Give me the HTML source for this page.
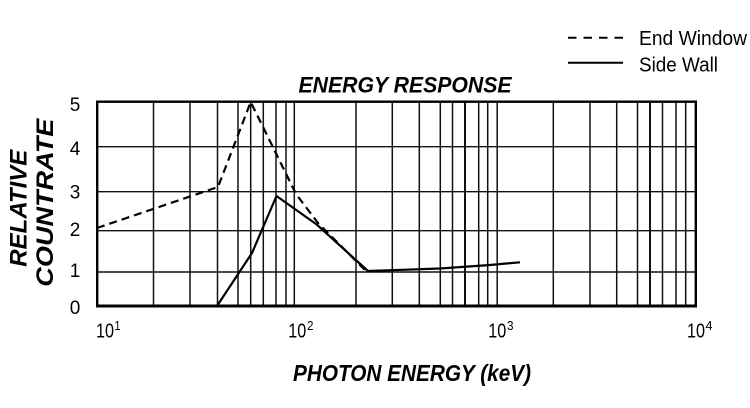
<!DOCTYPE html>
<html>
<head>
<meta charset="utf-8">
<style>
  html, body { margin: 0; padding: 0; background: #fff; }
  body { width: 750px; height: 408px; overflow: hidden; }
  svg { display: block; }
  text { font-family: "Liberation Sans", Arial, sans-serif; fill: #000; }
</style>
</head>
<body>
<svg width="750" height="408" viewBox="0 0 750 408" xmlns="http://www.w3.org/2000/svg">
  <rect x="0" y="0" width="750" height="408" fill="#fff"/>

  <!-- Legend -->
  <line x1="568" y1="37.7" x2="623" y2="37.7" stroke="#000" stroke-width="2" stroke-dasharray="8.5 7"/>
  <text x="639" y="45" font-size="20" textLength="108" lengthAdjust="spacingAndGlyphs">End Window</text>
  <line x1="568" y1="62.7" x2="623" y2="62.7" stroke="#000" stroke-width="2"/>
  <text x="639" y="71.5" font-size="20" textLength="79" lengthAdjust="spacingAndGlyphs">Side Wall</text>

  <!-- Title -->
  <text x="298.5" y="92.7" font-size="22" font-weight="bold" font-style="italic" textLength="213" lengthAdjust="spacingAndGlyphs">ENERGY RESPONSE</text>

  <!-- Grid: vertical lines -->
  <g stroke="#111" stroke-width="1.5">
    <line x1="153.5" y1="102" x2="153.5" y2="306"/>
    <line x1="190" y1="102" x2="190" y2="306"/>
    <line x1="217.5" y1="102" x2="217.5" y2="306"/>
    <line x1="238" y1="102" x2="238" y2="306"/>
    <line x1="250.7" y1="102" x2="250.7" y2="306"/>
    <line x1="263.3" y1="102" x2="263.3" y2="306"/>
    <line x1="276" y1="102" x2="276" y2="306"/>
    <line x1="286" y1="102" x2="286" y2="306"/>
    <line x1="294.3" y1="102" x2="294.3" y2="306"/>
    <line x1="356" y1="102" x2="356" y2="306"/>
    <line x1="392.3" y1="102" x2="392.3" y2="306"/>
    <line x1="419.3" y1="102" x2="419.3" y2="306"/>
    <line x1="440.3" y1="102" x2="440.3" y2="306"/>
    <line x1="452.5" y1="102" x2="452.5" y2="306"/>
    <line x1="465" y1="102" x2="465" y2="306" stroke-width="2"/>
    <line x1="478.7" y1="102" x2="478.7" y2="306"/>
    <line x1="487.7" y1="102" x2="487.7" y2="306"/>
    <line x1="497.2" y1="102" x2="497.2" y2="306"/>
    <line x1="553.3" y1="102" x2="553.3" y2="306"/>
    <line x1="590" y1="102" x2="590" y2="306"/>
    <line x1="616.7" y1="102" x2="616.7" y2="306"/>
    <line x1="637.5" y1="102" x2="637.5" y2="306"/>
    <line x1="650" y1="102" x2="650" y2="306" stroke-width="2"/>
    <line x1="662.5" y1="102" x2="662.5" y2="306"/>
    <line x1="676" y1="102" x2="676" y2="306"/>
    <line x1="685.7" y1="102" x2="685.7" y2="306"/>
  </g>
  <!-- Grid: horizontal lines -->
  <g stroke="#111" stroke-width="1.4">
    <line x1="97" y1="146.7" x2="696" y2="146.7"/>
    <line x1="97" y1="191.7" x2="696" y2="191.7"/>
    <line x1="97" y1="230.7" x2="696" y2="230.7"/>
    <line x1="97" y1="272" x2="696" y2="272"/>
  </g>

  <!-- Border -->
  <rect x="97.2" y="101.7" width="598.6" height="204.3" fill="none" stroke="#000" stroke-width="2.4"/>
  <line x1="96" y1="306" x2="697" y2="306" stroke="#000" stroke-width="3"/>

  <!-- End Window (dashed) -->
  <polyline points="97,228 218,187 250.7,102 296,194 318,223 367,272" fill="none" stroke="#000" stroke-width="2.2" stroke-dasharray="8 5" stroke-linejoin="round"/>

  <!-- Side Wall (solid) -->
  <polyline points="217,306 252,253 276.5,196 316.7,224.5 368,271 440,268.5 490,265 520,262.3" fill="none" stroke="#000" stroke-width="2.2" stroke-linejoin="round"/>

  <!-- Y tick labels -->
  <g font-size="19" text-anchor="middle">
    <text x="75" y="111">5</text>
    <text x="75" y="155">4</text>
    <text x="75" y="198.5">3</text>
    <text x="75" y="236">2</text>
    <text x="75" y="277">1</text>
    <text x="75" y="314">0</text>
  </g>

  <!-- X tick labels -->
  <g font-size="20">
    <text x="96" y="337.7" textLength="18" lengthAdjust="spacingAndGlyphs">10</text>
    <text x="114.5" y="330" font-size="13" textLength="6" lengthAdjust="spacingAndGlyphs">1</text>
    <text x="288.3" y="337.7" textLength="18" lengthAdjust="spacingAndGlyphs">10</text>
    <text x="307" y="330" font-size="13" textLength="6.5" lengthAdjust="spacingAndGlyphs">2</text>
    <text x="488.3" y="337.7" textLength="18" lengthAdjust="spacingAndGlyphs">10</text>
    <text x="507" y="330" font-size="13" textLength="6.5" lengthAdjust="spacingAndGlyphs">3</text>
    <text x="687" y="337.7" textLength="18" lengthAdjust="spacingAndGlyphs">10</text>
    <text x="705.5" y="330" font-size="13" textLength="7" lengthAdjust="spacingAndGlyphs">4</text>
  </g>

  <!-- X axis title -->
  <text x="293" y="381" font-size="23" font-weight="bold" font-style="italic" textLength="238" lengthAdjust="spacingAndGlyphs">PHOTON ENERGY (keV)</text>

  <!-- Y axis title (rotated) -->
  <text transform="translate(26.5,266.7) rotate(-90)" x="0" y="0" font-size="24" font-weight="bold" font-style="italic" textLength="117" lengthAdjust="spacingAndGlyphs">RELATIVE</text>
  <text transform="translate(53,286.7) rotate(-90)" x="0" y="0" font-size="24" font-weight="bold" font-style="italic" textLength="168" lengthAdjust="spacingAndGlyphs">COUNTRATE</text>
</svg>
</body>
</html>
